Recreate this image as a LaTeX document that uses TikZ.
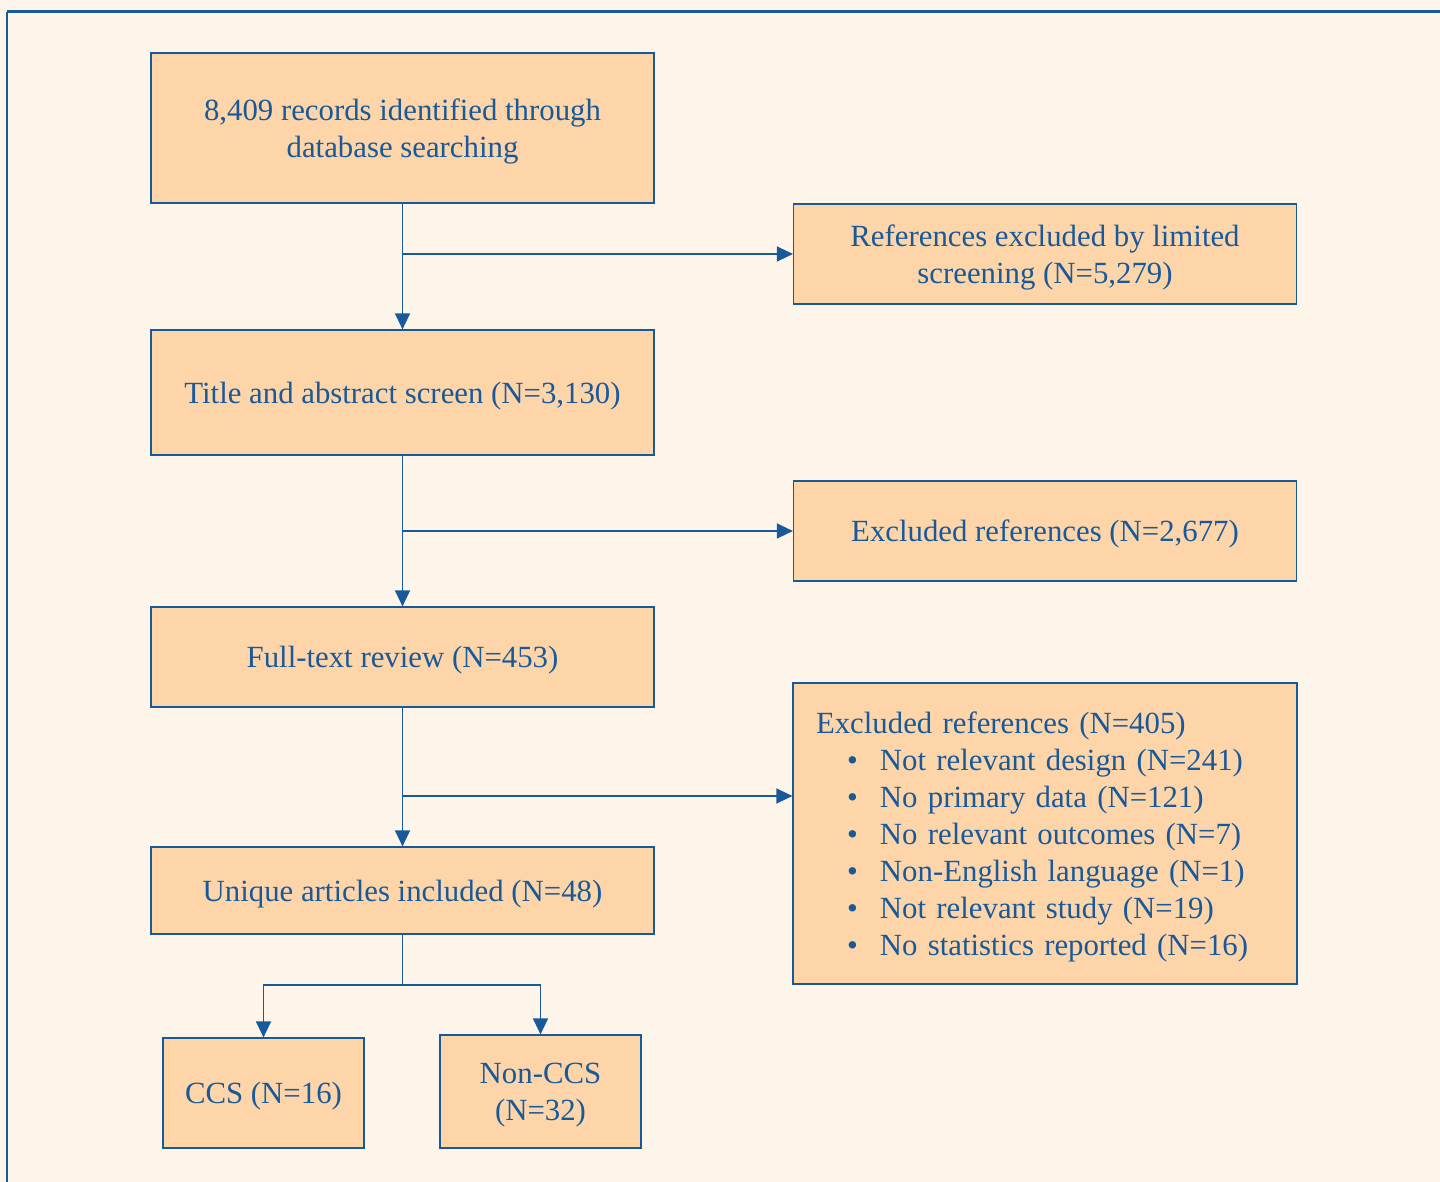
\documentclass[tikz,border=0pt]{standalone}
\usepackage{fontspec}
\setmainfont{Liberation Serif}
\usetikzlibrary{arrows.meta}
\definecolor{prblue}{HTML}{18599A}
\definecolor{prbox}{HTML}{FDD5A9}
\definecolor{prback}{HTML}{FEF5EA}
\tikzset{
  stagebox/.style={draw=prblue,fill=prbox,line width=1.2pt,text=prblue,
    minimum width=503pt,align=center,inner sep=4pt,text depth=0pt,
    font=\fontsize{30.8}{37}\selectfont},
  flow/.style={draw=prblue,line width=1.4pt,-{Triangle[length=16pt,width=15pt]}},
  flowline/.style={draw=prblue,line width=1.4pt}
}
\newcommand\exitem[1]{\hspace*{31pt}\makebox[33pt][l]{\textbullet}#1}
\begin{document}
\begin{tikzpicture}[x=1pt,y=-1pt]
\useasboundingbox (0,0) rectangle (1440,1182);
\fill[prback] (0,0) rectangle (1440,1182);
\draw[prblue,line width=3pt] (7,12) -- (1445,12);
\draw[prblue,line width=2pt] (7,12) -- (7,1190);
% main column
\node[stagebox,minimum height=150pt] (records) at (402.5,128) {8,409 records identified through\\database searching};
\node[stagebox,minimum height=125pt] (screen) at (402.5,392.5) {Title and abstract screen (N=3,130)};
\node[stagebox,minimum height=100pt] (fulltext) at (402.5,657) {Full-text review (N=453)};
\node[stagebox,minimum height=87pt] (included) at (402.5,890.5) {Unique articles included (N=48)};
\node[stagebox,minimum width=201pt,minimum height=110pt] (ccs) at (263.5,1093) {CCS (N=16)};
\node[stagebox,minimum width=201pt,minimum height=113pt] (nonccs) at (540.5,1091.5) {Non-CCS\\(N=32)};
% exclusions
\node[stagebox,minimum height=100pt] (limited) at (1045,254) {References excluded by limited\\screening (N=5,279)};
\node[stagebox,minimum height=100pt] (excluded) at (1045,531) {Excluded references (N=2,677)};
\node[stagebox,minimum height=301pt,inner xsep=23pt,text width=458pt,align=left,text depth=221pt] (reasons) at (1045,833.5) {Excluded references (N=405)\\
\exitem{Not relevant design (N=241)}\\
\exitem{No primary data (N=121)}\\
\exitem{No relevant outcomes (N=7)}\\
\exitem{Non-English language (N=1)}\\
\exitem{Not relevant study (N=19)}\\
\exitem{No statistics reported (N=16)}};
% connectors
\coordinate (split3) at (402.5,796);
\coordinate (split4) at (402.5,985);
\draw[flow] (records) -- (screen);
\draw[flow] (screen) -- (fulltext);
\draw[flow] (fulltext) -- (included);
\draw[flow] (records.south |- limited.west) -- (limited.west);
\draw[flow] (screen.south |- excluded.west) -- (excluded.west);
\draw[flow] (split3) -- (reasons.west |- split3);
\draw[flowline] (included) -- (split4);
\draw[flow] (split4) -| (ccs.north);
\draw[flow] (split4) -| (nonccs.north);
\end{tikzpicture}
\end{document}
